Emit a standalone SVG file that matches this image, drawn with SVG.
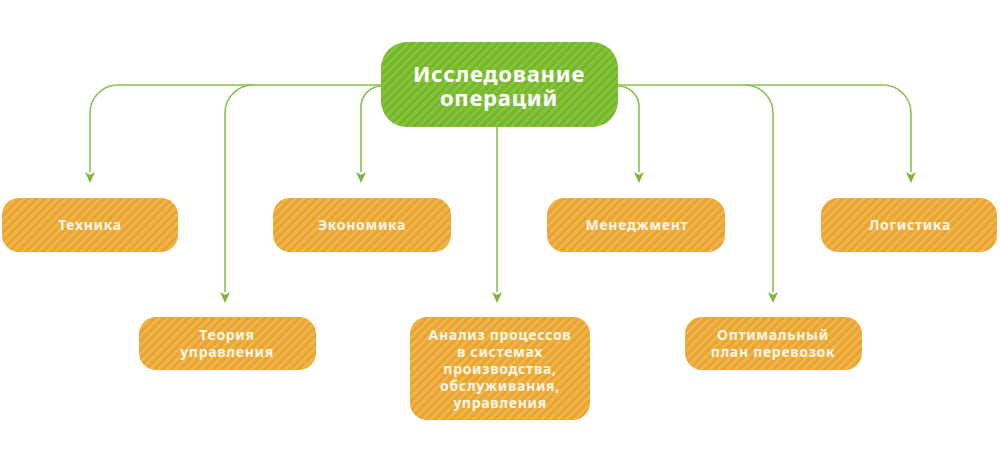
<svg xmlns="http://www.w3.org/2000/svg" width="1000" height="464" viewBox="0 0 1000 464">
<defs>
<pattern id="pg" width="6" height="6" patternUnits="userSpaceOnUse" patternTransform="rotate(45)">
<rect width="6" height="6" fill="#76b82a"/><rect width="2.5" height="6" fill="#88c443"/>
</pattern>
<pattern id="po" width="6" height="6" patternUnits="userSpaceOnUse" patternTransform="rotate(45)">
<rect width="6" height="6" fill="#e9a532"/><rect width="2.5" height="6" fill="#f1b64e"/>
</pattern>
</defs>
<style>
.c{fill:none;stroke:#8cc152;stroke-width:1.6}
.o{fill:url(#po)}
.t{font-family:"Noto Sans","Lato",sans-serif;font-weight:bold;fill:#fff7e6;font-size:14px;letter-spacing:0.7px;text-anchor:middle}
.r{font-family:"Noto Sans","Lato",sans-serif;font-weight:bold;fill:#ffffff;font-size:22px;letter-spacing:0.8px;text-anchor:middle}
</style>
<g id="connectors">
<path class="c" d="M382,85 H118 A28,28 0 0 0 90,113 V172"/>
<path class="c" d="M253,85 A28,28 0 0 0 225,113 V292"/>
<path class="c" d="M382,86 A21,21 0 0 0 361,107 V172"/>
<path class="c" d="M497,127 V292"/>
<path class="c" d="M618,86 A21,21 0 0 1 639,107 V172"/>
<path class="c" d="M618,85 H883 A28,28 0 0 1 911,113 V172"/>
<path class="c" d="M745,85 A28,28 0 0 1 773,113 V292"/>
<g fill="#7cb73a">
<path d="M85,172 L90,175 L95,172 L90,183 Z"/>
<path d="M220,292 L225,295 L230,292 L225,303 Z"/>
<path d="M356,172 L361,175 L366,172 L361,183 Z"/>
<path d="M492,292 L497,295 L502,292 L497,303 Z"/>
<path d="M634,172 L639,175 L644,172 L639,183 Z"/>
<path d="M906,172 L911,175 L916,172 L911,183 Z"/>
<path d="M768,292 L773,295 L778,292 L773,303 Z"/>
</g>
</g>
<g id="root">
<rect x="381" y="42" width="237" height="85" rx="26" fill="url(#pg)"/>
<text class="r" x="499" y="82">Исследование</text>
<text class="r" x="499" y="106">операций</text>
</g>
<g id="tehnika"><rect class="o" x="2" y="198" width="176" height="54" rx="17"/><text class="t" x="90" y="230">Техника</text></g>
<g id="ekonomika"><rect class="o" x="273" y="198" width="178" height="54" rx="17"/><text class="t" x="362" y="230">Экономика</text></g>
<g id="menedzhment"><rect class="o" x="547" y="198" width="178" height="54" rx="17"/><text class="t" x="637" y="230">Менеджмент</text></g>
<g id="logistika"><rect class="o" x="821" y="198" width="176" height="54" rx="17"/><text class="t" x="910" y="230">Логистика</text></g>
<g id="teoriya"><rect class="o" x="139" y="317" width="177" height="53" rx="17"/><text class="t" x="227" y="340">Теория</text><text class="t" x="227" y="357">управления</text></g>
<g id="analiz"><rect class="o" x="410" y="317" width="180" height="103" rx="17"/><text class="t" x="500" y="340">Анализ процессов</text><text class="t" x="500" y="357">в системах</text><text class="t" x="500" y="374">производства,</text><text class="t" x="500" y="391">обслуживания,</text><text class="t" x="500" y="408">управления</text></g>
<g id="optimalny"><rect class="o" x="685" y="317" width="177" height="53" rx="17"/><text class="t" x="773" y="340">Оптимальный</text><text class="t" x="773" y="357">план перевозок</text></g>
</svg>
